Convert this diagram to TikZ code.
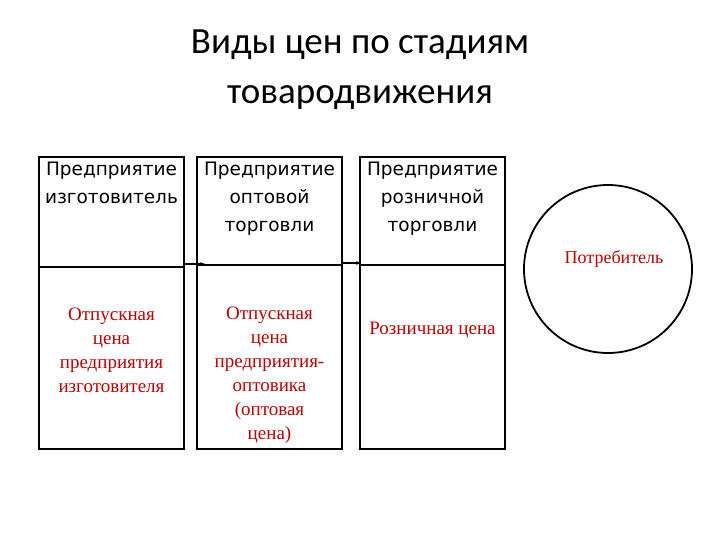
\documentclass[tikz,border=0pt]{standalone}
\usepackage{fontspec}
\setmainfont{Liberation Serif}
\newfontfamily\titlefont{Carlito}
\newfontfamily\boxfont{DejaVu Sans}
\usetikzlibrary{arrows.meta}
\definecolor{dred}{HTML}{C00000}
\begin{document}
\begin{tikzpicture}[x=1pt,y=-1pt,
  bx/.style={draw,line width=2pt},
  top/.style={font=\boxfont\fontsize{18.5}{28}\selectfont,align=center,anchor=north},
  low/.style={font=\rmfamily\fontsize{19}{24}\selectfont,text=dred,align=center},
  arr/.style={line width=1.3pt,-{Stealth[length=5pt]}}]
\useasboundingbox (0,0) rectangle (720,540);
\node[font=\titlefont\fontsize{37}{50}\selectfont,align=center] (title) at (360,70) {Виды цен по стадиям\\товародвижения};
\draw[bx] (39,157) rectangle (184,449);
\draw[bx] (197,157) rectangle (342,449);
\draw[bx] (360,157) rectangle (505,449);
\draw[line width=1.6pt] (39,267) -- (184,267) (197,265) -- (342,265) (360,265) -- (505,265);
\coordinate (a1) at (184,264); \coordinate (b1) at (205,264);
\coordinate (a2) at (342,263); \coordinate (b2) at (361,263);
\draw[arr] (a1) -- (b1);
\draw[arr] (a2) -- (b2);
\node[top] (t1) at (111.5,158) {Предприятие\\изготовитель};
\node[top] (t2) at (269.5,158) {Предприятие\\оптовой\\торговли};
\node[top] (t3) at (432.5,158) {Предприятие\\розничной\\торговли};
\node[low] (l1) at (111.5,350) {Отпускная\\цена\\предприятия\\изготовителя};
\node[low] (l2) at (269.5,375) {Отпускная\\цена\\предприятия-\\оптовика\\(оптовая\\цена)};
\node[low] (l3) at (432.5,330) {Розничная цена};
\node[draw,circle,line width=1.8pt,minimum size=168pt] (c) at (608,269) {};
\node[low,font=\rmfamily\fontsize{18}{22}\selectfont] (ct) at (614,259) {Потребитель};
\end{tikzpicture}
\end{document}
